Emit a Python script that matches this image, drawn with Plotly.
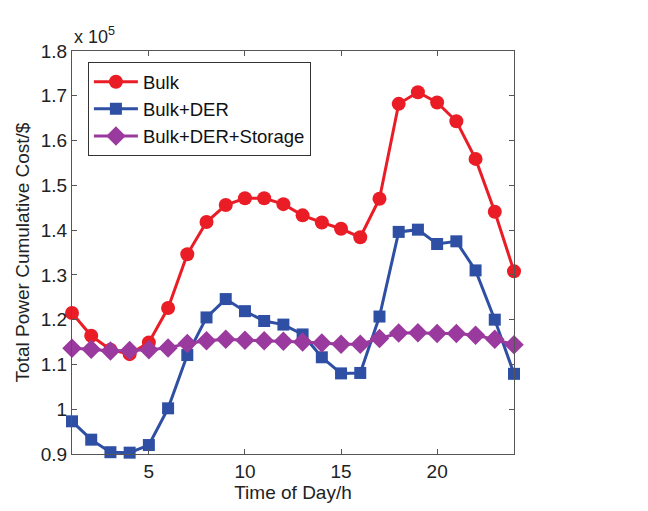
import plotly.graph_objects as go

hours = list(range(1, 25))
bulk = [1.215, 1.164, 1.133, 1.123, 1.149, 1.226, 1.346, 1.418, 1.456, 1.471, 1.471, 1.458,
        1.433, 1.417, 1.403, 1.384, 1.470, 1.682, 1.708, 1.685, 1.643, 1.559, 1.441, 1.308]
bulk_der = [0.973, 0.932, 0.904, 0.903, 0.920, 1.002, 1.121, 1.205, 1.246, 1.219, 1.197, 1.189,
            1.167, 1.116, 1.080, 1.081, 1.207, 1.396, 1.401, 1.369, 1.375, 1.310, 1.200, 1.079]
bulk_der_storage = [1.136, 1.134, 1.130, 1.131, 1.133, 1.137, 1.147, 1.153, 1.156, 1.154, 1.153, 1.152,
                    1.150, 1.148, 1.145, 1.145, 1.158, 1.170, 1.171, 1.169, 1.169, 1.165, 1.156, 1.144]
scale = 1e5
ytick_vals = [0.9, 1.0, 1.1, 1.2, 1.3, 1.4, 1.5, 1.6, 1.7, 1.8]
ytick_text = ["0.9", "1", "1.1", "1.2", "1.3", "1.4", "1.5", "1.6", "1.7", "1.8"]
xtick_vals = [5, 10, 15, 20]

FONT = "Liberation Sans, Arial, sans-serif"

fig = go.Figure()
series = [
    ("Bulk", bulk, "#EA1D27", "circle", 14),
    ("Bulk+DER", bulk_der, "#2E4FA3", "square", 12),
    ("Bulk+DER+Storage", bulk_der_storage, "#9B3A9E", "diamond", 15),
]
for name, vals, color, sym, size in series:
    fig.add_trace(go.Scatter(
        x=hours, y=[v * scale for v in vals], name=name, mode="lines+markers",
        line=dict(color=color, width=3),
        marker=dict(symbol=sym, size=size, color=color, line=dict(width=0)),
        cliponaxis=False,
    ))

axis_common = dict(
    showline=True, linecolor="#555", linewidth=1, mirror="ticks",
    ticks="inside", ticklen=5, tickcolor="#555", showgrid=False, zeroline=False,
    automargin=False,
    tickfont=dict(family=FONT, size=19, color="#222"),
)
fig.update_xaxes(range=[1, 24], tickvals=xtick_vals,
                 title=dict(text="Time of Day/h", font=dict(family=FONT, size=19, color="#222"), standoff=2),
                 **axis_common)
fig.update_yaxes(range=[0.9 * scale, 1.8 * scale],
                 tickvals=[v * scale for v in ytick_vals], ticktext=ytick_text,
                 title=dict(text="Total Power Cumulative Cost/$", font=dict(family=FONT, size=19, color="#222"), standoff=6),
                 **axis_common)

fig.add_annotation(x=0, y=1, xref="paper", yref="paper", xanchor="left", yanchor="bottom",
                   text="x 10<sup>5</sup>", showarrow=False, xshift=0, yshift=2,
                   font=dict(family=FONT, size=18, color="#222"))

fig.update_layout(
    width=648, height=511,
    margin=dict(l=64, r=142, t=43, b=65),
    paper_bgcolor="white", plot_bgcolor="white",
    showlegend=True,
    legend=dict(x=0.036, y=0.972, xanchor="left", yanchor="top",
                bordercolor="#333", borderwidth=1, bgcolor="white",
                font=dict(family=FONT, size=18.5, color="#111"),
                tracegroupgap=0, itemwidth=44),
)

fig.write_html("out.html")
